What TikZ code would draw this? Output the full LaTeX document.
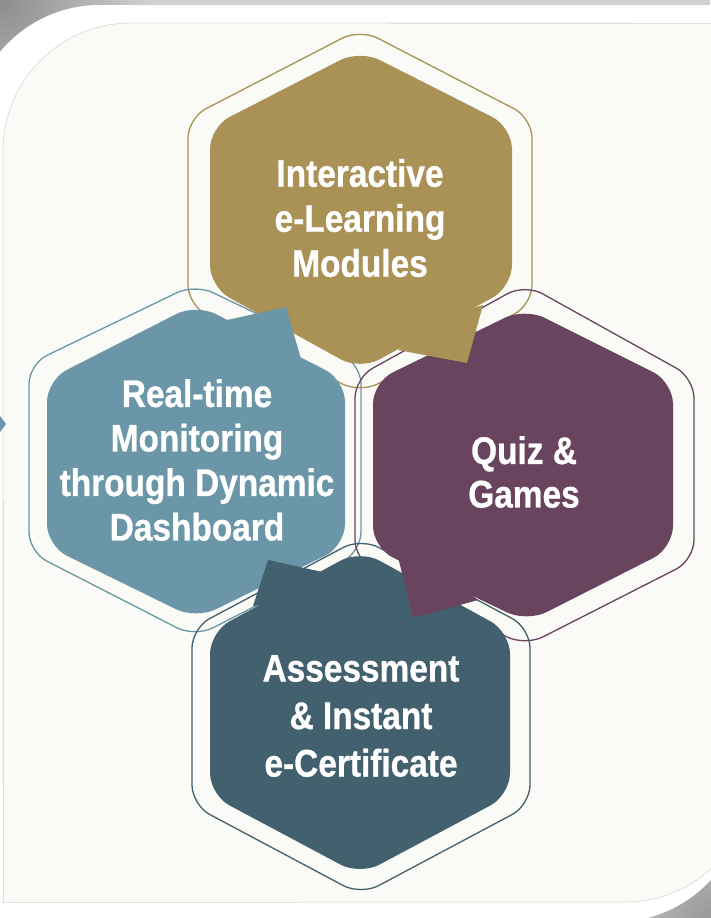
\documentclass[tikz,border=0pt]{standalone}
\usepackage{fontspec}
\newfontfamily\hexfont{Liberation Sans}[FakeStretch=0.87,FakeBold=0.8]
\definecolor{goldc}{RGB}{170,145,86}
\definecolor{bluec}{RGB}{106,150,167}
\definecolor{purplec}{RGB}{104,68,94}
\definecolor{tealc}{RGB}{66,96,109}
\definecolor{panelc}{RGB}{250,250,246}
\definecolor{edgec}{RGB}{222,222,222}
\definecolor{bgrayc}{RGB}{208,208,208}
\tikzset{
  outline/.style={draw=#1, line width=1.3pt, rounded corners=20pt},
  body/.style={fill=#1, rounded corners=22pt},
  tab/.style={fill=#1},
  label/.style={text=white, align=center, inner sep=0pt,
    font=\hexfont\bfseries\fontsize{38.4}{#1}\selectfont},
}
\begin{document}
\begin{tikzpicture}[x=1pt,y=-1pt]
\useasboundingbox (0,0) rectangle (710,918);
% background
\fill[bgrayc] (0,0) rectangle (710,918);
\shade[inner color=black!45, outer color=bgrayc] (0,0) circle[radius=150];
\shade[inner color=black!40, outer color=bgrayc] (710,918) circle[radius=120];
\fill[white, rounded corners=130pt] (-30,5) rectangle (745,922);
\fill[white] (-30,500) rectangle (300,930);
\fill[white] (400,5) rectangle (745,400);
\filldraw[fill=panelc, draw=edgec, line width=0.8pt, rounded corners=128pt] (3,23) rectangle (753,902);
\fill[panelc] (3.4,500) rectangle (300,901.6);
\fill[panelc] (400,23.4) rectangle (753,400);
\draw[edgec, line width=0.8pt] (3,500) -- (3,902) -- (300,902);
\draw[edgec, line width=0.8pt] (390,23) -- (753,23);
\fill[bluec] (0,416) -- (6,424) -- (0,432) -- cycle;
% outer outlines
\draw[outline=goldc]   (188,210) -- (188,118) -- (360,29)  -- (532,118) -- (532,305) -- (360,393) -- (188,305) -- cycle;
\draw[outline=bluec]   (29,460)  -- (29,364)  -- (195,284) -- (361,364) -- (361,552) -- (195,637) -- (29,552)  -- cycle;
\draw[outline=purplec] (355,470) -- (355,378) -- (525,284) -- (694,378) -- (694,560) -- (525,646) -- (355,560) -- cycle;
\draw[outline=tealc]   (192,715) -- (192,628) -- (361,538) -- (530,628) -- (530,805) -- (361,895) -- (192,805) -- cycle;
% bodies
\fill[body=goldc]   (210,205) -- (210,127) -- (360,50)  -- (512,127) -- (512,287) -- (360,370) -- (210,287) -- cycle;
\fill[body=bluec]   (47,460)  -- (47,380)  -- (196,304) -- (345,380) -- (345,546) -- (196,619) -- (47,546)  -- cycle;
\fill[body=purplec] (373,465) -- (373,382) -- (525,308) -- (673,382) -- (673,548) -- (527,622) -- (373,548) -- cycle;
\fill[body=tealc]   (210,715) -- (210,632) -- (360,550) -- (510,632) -- (510,795) -- (360,875) -- (210,795) -- cycle;
% tabs
\fill[tab=goldc]   (440,318) -- (483,305) -- (467,363) -- (398,350) -- cycle;
\fill[tab=bluec]   (227,320) -- (286,307) -- (301,359) -- (255,345) -- cycle;
\fill[tab=purplec] (398,557) -- (413,618) -- (478,600) -- (440,570) -- cycle;
\fill[tab=tealc]   (253,606) -- (268,560) -- (327,573) -- (300,600) -- cycle;
% labels
\node[label=45]   (ielm) at (360,218) {Interactive\\e-Learning\\Modules};
\node[label=44.5] (rtm)  at (197,460) {Real-time\\Monitoring\\through Dynamic\\Dashboard};
\node[label=43.5] (quiz) at (524,472) {Quiz \&\\Games};
\node[label=47.5] (aic)  at (361,716) {Assessment\\\& Instant\\e-Certificate};
\end{tikzpicture}
\end{document}
